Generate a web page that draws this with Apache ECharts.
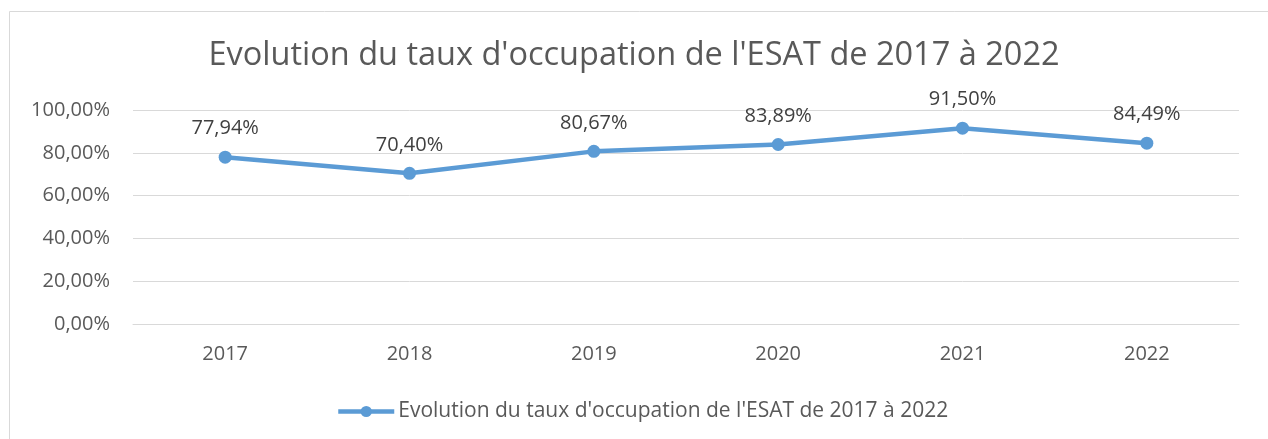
<!DOCTYPE html>
<html>
<head>
<meta charset="utf-8">
<script src="https://cdn.jsdelivr.net/npm/echarts@6/dist/echarts.min.js"></script>
<style>
  html, body { margin: 0; padding: 0; background: #ffffff; }
  #chart { width: 1268px; height: 439px; }
</style>
</head>
<body>
<div id="chart"></div>
<script>
// données
const years = ["2017", "2018", "2019", "2020", "2021", "2022"];
const occupation = [77.94, 70.40, 80.67, 83.89, 91.50, 84.49];
const seriesName = "Evolution du taux d'occupation de l'ESAT de 2017 à 2022";

const fmt = v => v.toFixed(2).replace(".", ",") + "%";
const font = "'Open Sans', 'Noto Sans', sans-serif";

const chart = echarts.init(document.getElementById("chart"));
chart.setOption({
  animation: false,
  textStyle: { fontFamily: font },
  graphic: [{
    type: "rect",
    shape: { x: 9.5, y: 11.5, width: 1270, height: 440 },
    style: { fill: "none", stroke: "#d9d9d9", lineWidth: 1 },
    silent: true
  }],
  title: {
    text: seriesName,
    left: "center",
    top: 34,
    textStyle: { fontSize: 32.5, fontWeight: "normal", color: "#595959", fontFamily: font }
  },
  legend: {
    top: 396,
    left: 331,
    itemWidth: 56,
    itemHeight: 14,
    itemGap: 4,
    lineStyle: { width: 4.5 },
    textStyle: { fontSize: 21, color: "#595959", fontFamily: font, padding: [0, 0, 0, -1] },
    data: [seriesName]
  },
  grid: { left: 133, right: 29, top: 110, bottom: 115, containLabel: false },
  xAxis: {
    type: "category",
    data: years,
    axisLine: { lineStyle: { color: "#d9d9d9", width: 1 } },
    axisTick: { show: false },
    axisLabel: { fontSize: 20, color: "#595959", margin: 20 }
  },
  yAxis: {
    type: "value",
    min: 0,
    max: 100,
    interval: 20,
    axisLine: { show: false },
    axisTick: { show: false },
    splitLine: { lineStyle: { color: "#d9d9d9", width: 1 } },
    axisLabel: { fontSize: 20, color: "#595959", margin: 23, formatter: v => fmt(v) }
  },
  series: [{
    name: seriesName,
    type: "line",
    data: occupation,
    symbol: "circle",
    symbolSize: 13,
    lineStyle: { color: "#5b9bd5", width: 4.5 },
    itemStyle: { color: "#5b9bd5" },
    label: {
      show: true,
      position: "top",
      distance: 12,
      fontSize: 20,
      color: "#404040",
      formatter: p => fmt(p.value)
    }
  }]
});
</script>
</body>
</html>
